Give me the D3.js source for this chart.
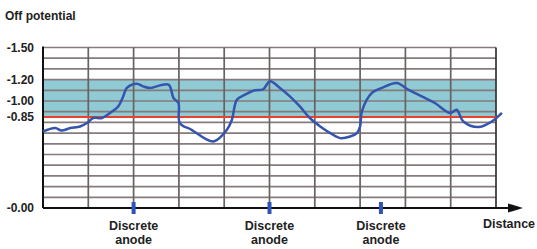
<!DOCTYPE html>
<html>
<head>
<meta charset="utf-8">
<script src="https://cdn.jsdelivr.net/npm/d3@7"></script>
<style>
  body { margin: 0; background: #fff; }
  svg text { font-family: "Liberation Sans Narrow", "Liberation Sans", Arial, sans-serif; font-weight: bold; fill: #222; }
</style>
</head>
<body>
<svg id="chart" width="537" height="249"></svg>
<script>
// distance along pipe (grid columns) and off potential magnitude (V)
const distance = [0, 0.27, 0.41, 0.6, 0.82, 0.97, 1.11, 1.3, 1.48, 1.66, 1.77, 1.85, 2.07, 2.21, 2.36, 2.77, 2.88, 2.99, 3.02, 3.28, 3.76, 4.06, 4.17, 4.28, 4.46, 4.68, 4.86, 5.01, 5.23, 5.45, 5.67, 5.89, 6.12, 6.34, 6.56, 6.78, 6.93, 7.0, 7.04, 7.26, 7.48, 7.81, 8.06, 8.36, 8.65, 8.99, 9.13, 9.28, 9.61, 9.91, 10.13];
const potential = [0.715, 0.747, 0.724, 0.747, 0.762, 0.794, 0.841, 0.841, 0.888, 0.949, 1.043, 1.122, 1.162, 1.137, 1.122, 1.153, 1.028, 0.981, 0.794, 0.731, 0.621, 0.731, 0.825, 1.012, 1.059, 1.1, 1.11, 1.184, 1.122, 1.043, 0.949, 0.841, 0.762, 0.7, 0.653, 0.668, 0.7, 0.762, 0.903, 1.075, 1.122, 1.169, 1.106, 1.043, 0.981, 0.888, 0.918, 0.809, 0.756, 0.809, 0.888];
const tickValues = [1.5, 1.2, 1.0, 0.85, 0];
const tickLabels = ["-1.50", "-1.20", "-1.00", "-0.85", "-0.00"];
const bandRange = [0.85, 1.2];
const criterion = 0.85;
const anodes = [2, 5, 7.46];

const svg = d3.select("#chart");
const plotLeft = 43, plotRight = 496, plotTop = 47.5, plotBottom = 208;

const x = d3.scaleLinear().domain([0, 10]).range([plotLeft, plotRight]);
const y = d3.scaleLinear().domain([0, 1.5]).range([plotBottom, plotTop]);

// title
svg.append("text").attr("x", 5).attr("y", 20)
  .style("font-size", "12px")
  .text("Off potential");

// protection band
svg.append("rect")
  .attr("x", x(0)).attr("y", y(bandRange[1]))
  .attr("width", x(10) - x(0)).attr("height", y(bandRange[0]) - y(bandRange[1]))
  .attr("fill", "#8fcad5");

// horizontal grid every 0.1
const hLines = d3.range(0, 16).map(i => i / 10);
svg.append("g").selectAll("line").data(hLines).enter().append("line")
  .attr("x1", x(0)).attr("x2", x(10))
  .attr("y1", d => y(d)).attr("y2", d => y(d))
  .attr("stroke", "#857b7b").attr("stroke-width", 1.7);

// vertical grid
svg.append("g").selectAll("line").data(d3.range(1, 11)).enter().append("line")
  .attr("x1", d => x(d)).attr("x2", d => x(d))
  .attr("y1", y(1.5)).attr("y2", y(0))
  .attr("stroke", d => d === 10 ? "#333" : "#6a6161").attr("stroke-width", 1.7);

// -0.85 criterion line
svg.append("line")
  .attr("x1", x(0)).attr("x2", x(10))
  .attr("y1", y(criterion)).attr("y2", y(criterion))
  .attr("stroke", "#e8412c").attr("stroke-width", 2);

// left axis
svg.append("line").attr("x1", plotLeft).attr("x2", plotLeft)
  .attr("y1", plotTop - 1).attr("y2", plotBottom)
  .attr("stroke", "#111").attr("stroke-width", 2);

// bottom axis with arrow
svg.append("line").attr("x1", plotLeft).attr("x2", 512)
  .attr("y1", plotBottom).attr("y2", plotBottom)
  .attr("stroke", "#111").attr("stroke-width", 2);
svg.append("path")
  .attr("d", `M508,${plotBottom - 4.5}L523,${plotBottom}L508,${plotBottom + 4.5}Z`)
  .attr("fill", "#111");

// y tick labels
svg.append("g").selectAll("text").data(tickValues).enter().append("text")
  .attr("x", 34).attr("y", d => y(d)).attr("dy", "0.36em")
  .attr("text-anchor", "end")
  .style("font-size", "12px")
  .text((d, i) => tickLabels[i]);

// potential curve
const line = d3.line()
  .x((d, i) => x(distance[i]))
  .y(d => y(d))
  .curve(d3.curveCatmullRom.alpha(0.5));
svg.append("path")
  .datum(potential)
  .attr("d", line)
  .attr("fill", "none")
  .attr("stroke", "#3454ae")
  .attr("stroke-width", 2.5)
  .attr("stroke-linejoin", "round");

// anodes
const an = svg.append("g").selectAll("g").data(anodes).enter().append("g");
an.append("rect")
  .attr("x", d => x(d) - 2).attr("y", plotBottom - 6)
  .attr("width", 4).attr("height", 12)
  .attr("fill", "#2c55b8");
an.append("text").attr("x", d => x(d)).attr("y", 230)
  .attr("text-anchor", "middle").style("font-size", "12.5px")
  .text("Discrete");
an.append("text").attr("x", d => x(d)).attr("y", 244)
  .attr("text-anchor", "middle").style("font-size", "12.5px")
  .text("anode");

svg.append("text").attr("x", 509).attr("y", 228)
  .attr("text-anchor", "middle").style("font-size", "12.5px")
  .text("Distance");
</script>
</body>
</html>
